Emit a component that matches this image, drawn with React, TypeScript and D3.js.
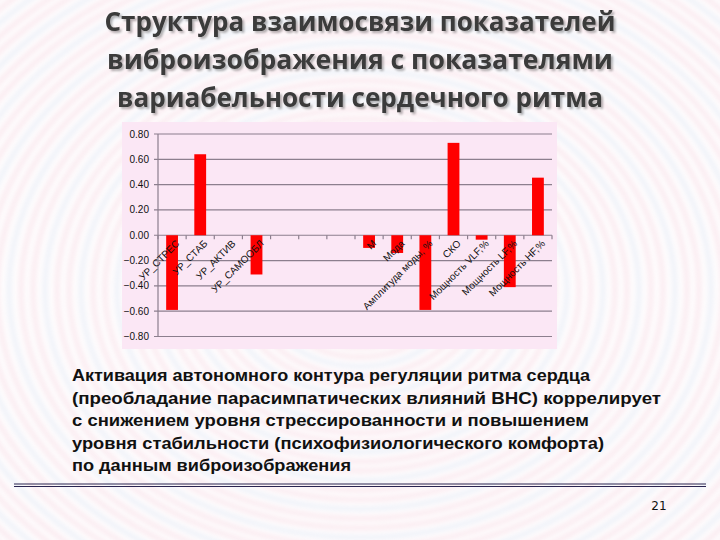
import React from "react";
import * as d3 from "d3";

const categories = [
  "УР_СТРЕС", "УР_СТАБ", "УР_АКТИВ", "УР_САМООБЛ", "", "", "",
  "М", "Мода", "Амплитуда моды, %", "СКО", "Мощность VLF,%", "Мощность LF,%", "Мощность HF,%",
];
const values = [-0.59, 0.64, 0, -0.31, 0, 0, 0, -0.10, -0.14, -0.59, 0.73, -0.035, -0.41, 0.455];
const yTicks = [0.8, 0.6, 0.4, 0.2, 0, -0.2, -0.4, -0.6, -0.8];
const titleLines = [
  "Структура взаимосвязи показателей",
  "виброизображения с  показателями",
  "вариабельности сердечного ритма",
];
const bodyLines = [
  "Активация автономного контура регуляции ритма сердца",
  "(преобладание парасимпатических влияний ВНС)  коррелирует",
  "с снижением  уровня стрессированности  и повышением",
  "уровня стабильности  (психофизиологического комфорта)",
  "по данным виброизображения",
];
const pageNumber = "21";

export default function App() {
  const W = 720, H = 540;
  const x0 = 158, x1 = 552;
  const x = d3.scaleBand<number>().domain(d3.range(categories.length)).range([x0, x1]).paddingInner(0.58).paddingOuter(0.29);
  const xs = d3.scaleBand<number>().domain(d3.range(categories.length)).range([x0, x1]);
  const y = d3.scaleLinear().domain([-0.8, 0.8]).range([336.5, 134]);
  const y0 = y(0);
  const bodyWidths = [518, 589, 517, 532, 279];

  const rings = d3.range(0, 60);
  return (
    <svg width={W} height={H} style={{ position: "absolute", left: 0, top: 0 }}>
      <defs>
        <filter id="sh" x="-5%" y="-20%" width="110%" height="140%">
          <feGaussianBlur in="SourceAlpha" stdDeviation="1" />
          <feOffset dx="2" dy="2" result="o" />
          <feComponentTransfer><feFuncA type="linear" slope="0.3" /></feComponentTransfer>
          <feMerge><feMergeNode /><feMergeNode in="SourceGraphic" /></feMerge>
        </filter>
        <filter id="bl"><feGaussianBlur stdDeviation="2.5" /></filter>
      </defs>
      <rect width={W} height={H} fill="#fefcfd" />
      <g opacity={0.28} fill="none" filter="url(#bl)">
        {rings.map((i) => (
          <ellipse key={i} cx={360} cy={290} rx={15 + i * 12} ry={10 + i * 9.5}
            stroke={i % 3 === 1 ? "#bcd0ea" : "#efb3c6"} strokeWidth={4} />
        ))}
      </g>
      <g fontFamily="'Open Sans', 'DejaVu Sans', sans-serif" fontWeight="bold" fontSize={27} fill="#3b3b3b" textAnchor="middle" filter="url(#sh)">
        {titleLines.map((t, i) => (
          <text key={i} x={360} y={31 + i * 38} textLength={[511, 506, 486][i]} lengthAdjust="spacingAndGlyphs">{t}</text>
        ))}
      </g>
      <rect x={122} y={122} width={435} height={227} fill="#fbe7f5" />
      <g stroke="#8c7f8e" strokeWidth={1.2}>
        {yTicks.map((t) => (
          <line key={t} x1={x0 - 4} x2={x1} y1={y(t)} y2={y(t)} />
        ))}
        <line x1={x0} x2={x0} y1={y(0.8)} y2={y(-0.8)} />
        {d3.range(categories.length + 1).map((i) => (
          <line key={i} x1={x0 + i * xs.bandwidth()} x2={x0 + i * xs.bandwidth()} y1={y0} y2={y0 + 4} />
        ))}
      </g>
      <g fontFamily="'Liberation Sans', Arial, sans-serif" fontSize={10} fill="#111" textAnchor="end">
        {yTicks.map((t) => (
          <text key={t} x={x0 - 9} y={y(t) + 3.5}>{d3.format(".2f")(t)}</text>
        ))}
      </g>
      <g fill="#ff0000">
        {values.map((v, i) => (
          v !== 0 ? <rect key={i} x={x(i)!} width={x.bandwidth()} y={Math.min(y(v), y0)} height={Math.abs(y(v) - y0)} /> : null
        ))}
      </g>
      <g fontFamily="'Liberation Sans', Arial, sans-serif" fontSize={10} fill="#111" textAnchor="end">
        {categories.map((c, i) => (
          <text key={i} transform={`translate(${xs(i)! + xs.bandwidth() / 2 + 3},${y0 + 4}) rotate(-45)`} dy="0.7em">{c}</text>
        ))}
      </g>
      <g fontFamily="'Liberation Sans', Arial, sans-serif" fontWeight="bold" fontSize={16.5} fill="#111">
        {bodyLines.map((t, i) => (
          <text key={i} x={72} y={381 + i * 22.5} textLength={bodyWidths[i]} lengthAdjust="spacingAndGlyphs">{t}</text>
        ))}
      </g>
      <line x1={14} x2={706} y1={484} y2={484} stroke="#2a2450" strokeWidth={1} />
      <line x1={14} x2={706} y1={486.5} y2={486.5} stroke="#2a2450" strokeWidth={1} />
      <text x={659} y={510} fontFamily="'DejaVu Sans', sans-serif" fontSize={12} fill="#111" textAnchor="middle">{pageNumber}</text>
    </svg>
  );
}
